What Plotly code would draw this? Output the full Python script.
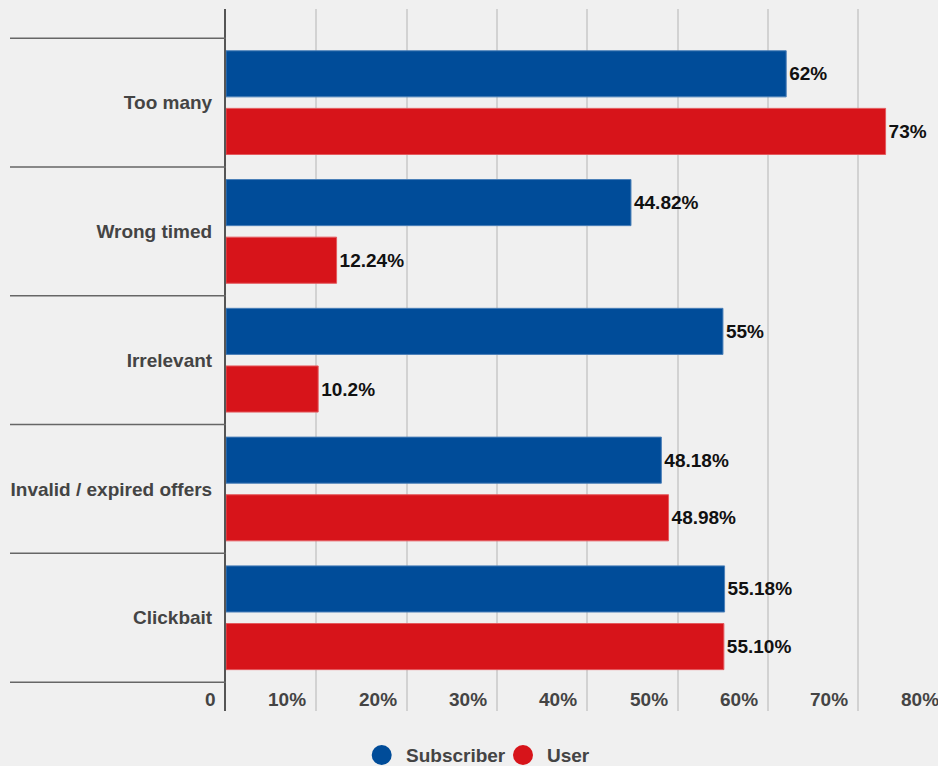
import plotly.graph_objects as go

# ---- data ----
categories = ["Too many", "Wrong timed", "Irrelevant", "Invalid / expired offers", "Clickbait"]
subscriber = [62, 44.82, 55, 48.18, 55.18]
user = [73, 12.24, 10.2, 48.98, 55.10]
subscriber_labels = ["62%", "44.82%", "55%", "48.18%", "55.18%"]
user_labels = ["73%", "12.24%", "10.2%", "48.98%", "55.10%"]
series_names = ["Subscriber", "User"]
x_tick_values = [0, 10, 20, 30, 40, 50, 60, 70, 80]
x_tick_labels = ["0", "10%", "20%", "30%", "40%", "50%", "60%", "70%", "80%"]

# ---- style ----
colors = ["#004C99", "#D7141A"]
line_colors = ["#4A7FB8", "#E45A5E"]
FONT = "Liberation Sans, Arial, sans-serif"
FS = 19
W, H = 938, 766
ML, MR, MT, MB = 226, 0, 9, 55
PW, PH = W - ML - MR, H - MT - MB
X_MAX = 78.8
Y_RANGE = [4.724, -0.727]


def px_x(p):
    return (p - ML) / PW


def px_y(p):
    return (H - MB - p) / PH


fig = go.Figure()
for vals, labels, name, c, lc in [
    (subscriber, subscriber_labels, series_names[0], colors[0], line_colors[0]),
    (user, user_labels, series_names[1], colors[1], line_colors[1]),
]:
    fig.add_trace(go.Bar(
        y=categories, x=vals, name=name, orientation="h",
        text=labels, textposition="outside", cliponaxis=False,
        textfont=dict(family=FONT, size=FS, color="#111111", weight="bold"),
        marker=dict(color=c, line=dict(color=lc, width=1)),
        showlegend=False, hoverinfo="skip",
    ))

shapes = []
# category separator lines in the label area
for i in range(len(categories) + 1):
    shapes.append(dict(type="line", xref="paper", yref="y",
                       x0=px_x(10), x1=0, y0=i - 0.5, y1=i - 0.5,
                       line=dict(color="#666666", width=1.5), layer="above"))

annotations = []
# x tick labels, right-aligned just left of each gridline
for v, t in zip(x_tick_values, x_tick_labels):
    annotations.append(dict(text=t, x=v / X_MAX, xref="paper", y=px_y(699.5), yref="paper",
                            xanchor="right", yanchor="middle", xshift=-8, showarrow=False,
                            font=dict(family=FONT, size=FS, color="#444444", weight="bold")))

# manual legend
legend_items = [(series_names[0], colors[0], 381.7, 404.0),
                (series_names[1], colors[1], 523.0, 545.0)]
for name, c, cx, tx in legend_items:
    shapes.append(dict(type="circle", xref="paper", yref="paper",
                       xsizemode="pixel", ysizemode="pixel",
                       xanchor=px_x(cx), yanchor=px_y(755),
                       x0=-10, x1=10, y0=-10, y1=10,
                       fillcolor=c, line=dict(width=0)))
    annotations.append(dict(text=name, x=px_x(tx), xref="paper", y=px_y(755), yref="paper",
                            xanchor="left", yanchor="middle", showarrow=False,
                            font=dict(family=FONT, size=FS, color="#444444", weight="bold")))

fig.update_layout(
    width=W, height=H,
    margin=dict(l=ML, r=MR, t=MT, b=MB, pad=0),
    paper_bgcolor="#F0F0F0", plot_bgcolor="#F0F0F0",
    barmode="group", bargap=0.105, bargroupgap=0.2,
    font=dict(family=FONT, size=FS, color="#444444"),
    shapes=shapes, annotations=annotations,
    xaxis=dict(range=[0, X_MAX], tickvals=x_tick_values, showticklabels=False,
               showgrid=True, gridcolor="#D2D2D2", gridwidth=1.5,
               zeroline=False, showline=False, fixedrange=True),
    yaxis=dict(categoryorder="array", categoryarray=categories, range=Y_RANGE,
               showgrid=False, zeroline=False, showline=True, linecolor="#555555",
               linewidth=2, ticks="", ticklabelstandoff=8,
               tickfont=dict(family=FONT, size=FS, color="#444444", weight="bold")),
)

fig.write_html("out.html", config={"displayModeBar": False},
               post_script="document.body.style.margin='0';document.body.style.overflow='hidden';")
